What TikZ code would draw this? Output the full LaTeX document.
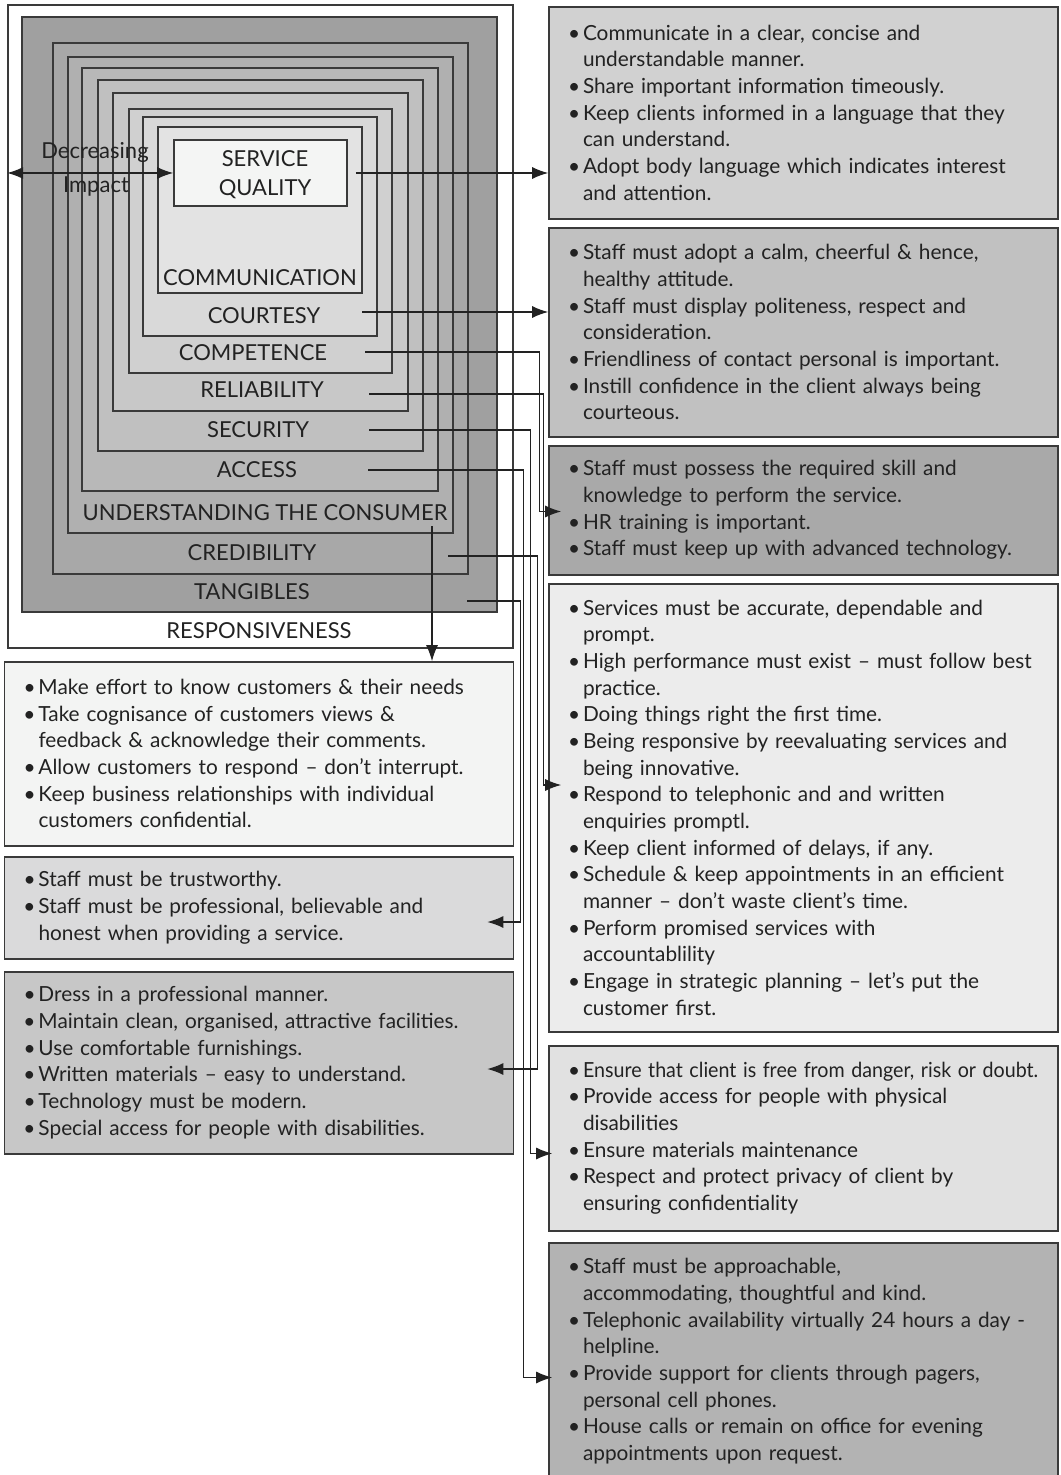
\documentclass[tikz,border=0pt]{standalone}
\usepackage{fontspec}
\setmainfont{Lato}
\usetikzlibrary{arrows.meta,calc,fit}

\definecolor{edge}{HTML}{3A3A3A}
\definecolor{ink}{HTML}{222222}
\definecolor{gTang}{HTML}{A0A0A0}
\definecolor{gCred}{HTML}{A8A8A8}
\definecolor{gUnd}{HTML}{B0B0B0}
\definecolor{gAcc}{HTML}{B8B8B8}
\definecolor{gSec}{HTML}{C0C0C0}
\definecolor{gRel}{HTML}{C8C8C8}
\definecolor{gComp}{HTML}{D0D0D0}
\definecolor{gCourt}{HTML}{D9D9D9}
\definecolor{gComm}{HTML}{E3E3E3}
\definecolor{gSQ}{HTML}{F4F5F4}
\definecolor{rOne}{HTML}{D1D1D1}
\definecolor{rTwo}{HTML}{C1C1C1}
\definecolor{rThree}{HTML}{A9A9A9}
\definecolor{rFour}{HTML}{ECECEC}
\definecolor{rFive}{HTML}{E1E1E1}
\definecolor{rSix}{HTML}{B3B3B3}
\definecolor{lOne}{HTML}{F3F4F3}
\definecolor{lTwo}{HTML}{DADADB}
\definecolor{lThree}{HTML}{C7C7C7}

% one bullet point, one paragraph; \newline keeps the hanging indent
\newcommand{\bitem}{\par\noindent\leftskip=9.5pt\hangindent=7.5pt\hangafter=1\makebox[7.5pt][l]{\textbullet}}
\newcommand{\eitems}{\par\vspace{6pt}}

\begin{document}
\begin{tikzpicture}[
  x=0.5pt, y=-0.5pt,
  ring/.style={draw=edge, line width=0.8pt, inner sep=0pt},
  lbl/.style={inner sep=0pt, text=ink, font=\fontsize{11}{14.5}\selectfont},
  info/.style={draw=edge, line width=0.8pt, inner sep=0pt, text width=254.5pt, align=left, text=ink, font=\fontsize{10.4}{13.33}\selectfont},
  arr/.style={-{Latex[length=8pt,width=6pt]}, line width=0.65pt, draw=ink},
  dblarr/.style={{Latex[length=8pt,width=6pt]}-{Latex[length=8pt,width=6pt]}, line width=0.65pt, draw=ink}
]
\path[use as bounding box, clip] (0,0) rectangle (1060,1475);

% nested dimensions
\node[ring, fill=white, fit={(8,5) (513,648)}] (resp) {};
\node[ring, fill=gTang, fit={(22,17) (497,612)}] (tang) {};
\node[ring, fill=gCred, fit={(53,43) (468,574)}] (cred) {};
\node[ring, fill=gUnd, fit={(68,57) (453,533)}] (und) {};
\node[ring, fill=gAcc, fit={(82,68) (438,491)}] (acc) {};
\node[ring, fill=gSec, fit={(98,80) (423,451)}] (sec) {};
\node[ring, fill=gRel, fit={(113,93) (408,411)}] (rel) {};
\node[ring, fill=gComp, fit={(129,109) (392,373)}] (comp) {};
\node[ring, fill=gCourt, fit={(143,117) (377,336)}] (court) {};
\node[ring, fill=gComm, fit={(158,127) (362,293)}] (comm) {};
\node[ring, fill=gSQ, fit={(174,140) (347,206)}] (sq) {};

\node[lbl, align=center] (t-sq) at (265,175) {SERVICE\\QUALITY};
\node[lbl] (t-comm) at (260,278) {COMMUNICATION};
\node[lbl] (t-court) at (264,316) {COURTESY};
\node[lbl] (t-comp) at (253,353) {COMPETENCE};
\node[lbl] (t-rel) at (262,390) {RELIABILITY};
\node[lbl] (t-sec) at (258,430) {SECURITY};
\node[lbl] (t-acc) at (257,470) {ACCESS};
\node[lbl] (t-und) at (265,513) {UNDERSTANDING THE CONSUMER};
\node[lbl] (t-cred) at (252,553) {CREDIBILITY};
\node[lbl] (t-tang) at (252,592) {TANGIBLES};
\node[lbl] (t-resp) at (259,631) {RESPONSIVENESS};

\node[lbl] (dec) at (95,152) {Decreasing};
\node[lbl] (imp) at (96,187) {Impact};
\draw[dblarr] (resp.west |- sq.west) -- (sq.west);

% right column
\node[info, fill=rOne, minimum height=106pt] (r1) at (803.5,113) {
\bitem Communicate in a clear, concise and\newline understandable manner.
\bitem Share important information timeously.
\bitem Keep clients informed in a language that they\newline can understand.
\bitem Adopt body language which indicates interest\newline and attention.\eitems};
\node[info, fill=rTwo, minimum height=104.5pt] (r2) at (803.5,332.5) {
\bitem Staff must adopt a calm, cheerful \& hence,\newline healthy attitude.
\bitem Staff must display politeness, respect and\newline consideration.
\bitem Friendliness of contact personal is important.
\bitem Instill confidence in the client always being\newline courteous.\eitems};
\node[info, fill=rThree, minimum height=64.5pt] (r3) at (803.5,510.5) {
\bitem Staff must possess the required skill and\newline knowledge to perform the service.
\bitem HR training is important.
\bitem Staff must keep up with advanced technology.\eitems};
\node[info, fill=rFour, minimum height=224pt] (r4) at (803.5,808) {
\bitem Services must be accurate, dependable and\newline prompt.
\bitem High performance must exist -- must follow best\newline practice.
\bitem Doing things right the first time.
\bitem Being responsive by reevaluating services and\newline being innovative.
\bitem Respond to telephonic and and written\newline enquiries promptl.
\bitem Keep client informed of delays, if any.
\bitem Schedule \& keep appointments in an efficient\newline manner -- don’t waste client’s time.
\bitem Perform promised services with\newline accountablility
\bitem Engage in strategic planning -- let’s put the\newline customer first.\eitems};
\node[info, fill=rFive, minimum height=92.5pt] (r5) at (803.5,1138.5) {
\bitem \scalebox{0.945}[1]{Ensure that client is free from danger, risk or doubt.}
\bitem Provide access for people with physical\newline disabilities
\bitem Ensure materials maintenance
\bitem Respect and protect privacy of client by\newline ensuring confidentiality\eitems};
\node[info, fill=rSix, minimum height=118.5pt] (r6) at (803.5,1361.5) {
\bitem Staff must be approachable,\newline accommodating, thoughtful and kind.
\bitem Telephonic availability virtually 24 hours a day -\newline helpline.
\bitem Provide support for clients through pagers,\newline personal cell phones.
\bitem House calls or remain on office for evening\newline appointments upon request.\eitems};

% left column
\node[info, fill=lOne, minimum height=92pt] (l1) at (259,754) {
\bitem Make effort to know customers \& their needs
\bitem Take cognisance of customers views \&\newline feedback \& acknowledge their comments.
\bitem Allow customers to respond -- don’t interrupt.
\bitem Keep business relationships with individual\newline customers confidential.\eitems};
\node[info, fill=lTwo, minimum height=51pt] (l2) at (259,908) {
\bitem Staff must be trustworthy.
\bitem Staff must be professional, believable and\newline honest when providing a service.\eitems};
\node[info, fill=lThree, minimum height=91pt] (l3) at (259,1063) {
\bitem Dress in a professional manner.
\bitem Maintain clean, organised, attractive facilities.
\bitem Use comfortable furnishings.
\bitem Written materials -- easy to understand.
\bitem Technology must be modern.
\bitem Special access for people with disabilities.\eitems};

% connectors
\coordinate (court-out) at (362,312);
\coordinate (comp-out) at (365,352);
\coordinate (rel-out) at (369,394);
\coordinate (sec-out) at (369,430);
\coordinate (acc-out) at (368,470);
\coordinate (und-out) at (432,526);
\coordinate (cred-out) at (448,556);
\coordinate (tang-out) at (467,601);

\draw[arr] ($(sq.east)+(8,0)$) -- (sq.east -| r1.west);
\draw[arr] (court-out) -- (court-out -| r2.west);
\draw[arr] (comp-out) -| ($(r3.west)+(-9,1)$) -- ($(r3.west)+(13,1)$);
\draw[arr] (rel-out) -| ($(r4.west)+(-5,-23)$) -- ($(r4.west)+(13,-23)$);
\draw[arr] (sec-out) -| ($(r5.west)+(-18,15)$) -- ($(r5.west)+(4,15)$);
\draw[arr] (acc-out) -| ($(r6.west)+(-25,16)$) -- ($(r6.west)+(4,16)$);
\draw[arr] (und-out) -- (und-out |- l1.north);
\draw[arr] (cred-out) -| ($(l3.east)+(23,6)$) -- ($(l3.east)+(-27,6)$);
\draw[arr] (tang-out) -| ($(l2.east)+(6,14)$) -- ($(l2.east)+(-27,14)$);
\end{tikzpicture}
\end{document}
